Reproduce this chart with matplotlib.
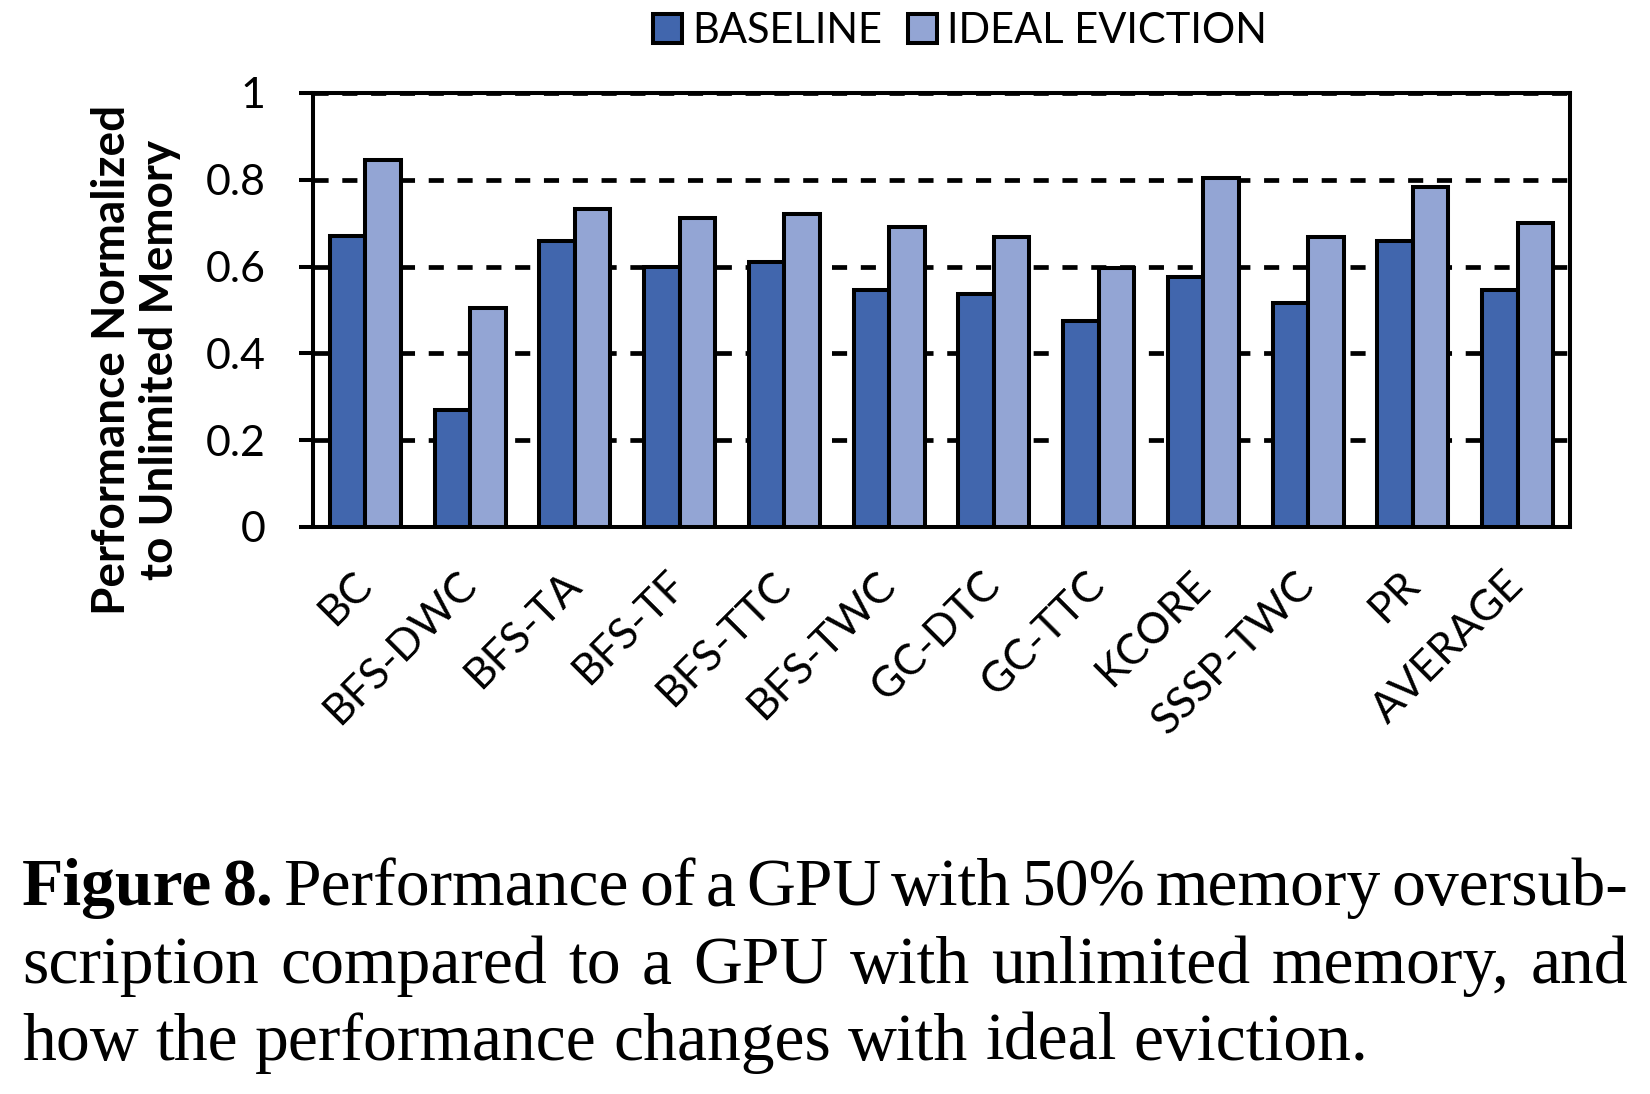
import numpy as np
import matplotlib.pyplot as plt
from matplotlib.transforms import IdentityTransform

benchmarks = ['BC', 'BFS-DWC', 'BFS-TA', 'BFS-TF', 'BFS-TTC', 'BFS-TWC',
              'GC-DTC', 'GC-TTC', 'KCORE', 'SSSP-TWC', 'PR', 'AVERAGE']
baseline = [0.67, 0.27, 0.66, 0.60, 0.61, 0.546, 0.537, 0.475, 0.577, 0.517, 0.658, 0.546]
ideal = [0.845, 0.505, 0.732, 0.712, 0.722, 0.691, 0.669, 0.597, 0.803, 0.669, 0.783, 0.70]
series_names = ['BASELINE', 'IDEAL EVICTION']
yticks = [0, 0.2, 0.4, 0.6, 0.8, 1]
ytick_labels = ['0', '0.2', '0.4', '0.6', '0.8', '1']

caption_lines = [
    'Figure 8. Performance of a GPU with 50% memory oversub-',
    'scription compared to a GPU with unlimited memory, and',
    'how the performance changes with ideal eviction.',
]

W, H = 1650, 1094
plt.rcParams['font.family'] = ['Lato', 'DejaVu Sans']

fig = plt.figure(figsize=(W / 100, H / 100), dpi=100)
ax = fig.add_axes([313 / W, 1 - 527 / H, (1570 - 313) / W, (527 - 93) / H])

x = np.arange(len(benchmarks))
bw = 0.34
c_base = '#4166ad'
c_ideal = '#93a5d4'
b1 = ax.bar(x - bw / 2, baseline, bw, color=c_base, edgecolor='black', linewidth=2.9, zorder=3)
b2 = ax.bar(x + bw / 2, ideal, bw, color=c_ideal, edgecolor='black', linewidth=2.9, zorder=3)

ax.set_xlim(-0.5, len(benchmarks) - 0.5)
ax.set_ylim(0, 1)
ax.set_yticks(yticks)
ax.set_yticklabels(ytick_labels, fontsize=31)
ax.tick_params(axis='y', length=10, width=2.9, pad=24, direction='out')
ax.set_xticks(x)
ax.set_xticklabels(benchmarks, fontsize=31, rotation=45, ha='right',
                   va='center', rotation_mode='anchor')
ax.tick_params(axis='x', length=0, pad=37)
for s in ax.spines.values():
    s.set_linewidth(2.9)
ax.yaxis.grid(True, color='black', linestyle=(0, (3.2, 2.9)), linewidth=3.4, zorder=0)
ax.set_axisbelow(True)

fig.text(136 / W, 1 - 360 / H, 'Performance Normalized\nto Unlimited Memory',
         rotation=90, ha='center', va='center', multialignment='center',
         fontsize=33, fontweight='bold', linespacing=1.15)

fig.legend([b1, b2], series_names, loc='center', bbox_to_anchor=(960 / W, 1 - 31 / H),
           ncol=2, frameon=False, fontsize=30, handlelength=0.7, handleheight=0.7,
           handletextpad=0.25, columnspacing=0.6, borderaxespad=0)

# caption, justified like the paper text
r = fig.canvas.get_renderer()
serif = 'Liberation Serif'
x0, x1 = 22, 1628
baselines = [H - 905, H - 983, H - 1060]

probe = fig.text(0, 0, caption_lines[0], fontsize=50, family=serif)
fs = 50 * (x1 - x0) / probe.get_window_extent(r).width * 1.03
probe.remove()
sp = fig.text(0, 0, 'a b', fontsize=fs, family=serif)
sa = fig.text(0, 0, 'ab', fontsize=fs, family=serif)
space_w = sp.get_window_extent(r).width - sa.get_window_extent(r).width
sp.remove()
sa.remove()

for i, line in enumerate(caption_lines):
    words = line.split(' ')
    texts = []
    for j, w in enumerate(words):
        bold = i == 0 and j < 2
        t = fig.text(0, baselines[i], w, fontsize=fs, family=serif,
                     fontweight='bold' if bold else 'normal',
                     transform=IdentityTransform(), va='baseline', ha='left')
        texts.append(t)
    widths = [t.get_window_extent(r).width for t in texts]
    if i < len(caption_lines) - 1:
        gap = (x1 - x0 - sum(widths)) / (len(words) - 1)
    else:
        gap = space_w
    pos = x0
    for t, w in zip(texts, widths):
        t.set_x(pos)
        pos += w + gap

fig.savefig('out.png', dpi=100)
